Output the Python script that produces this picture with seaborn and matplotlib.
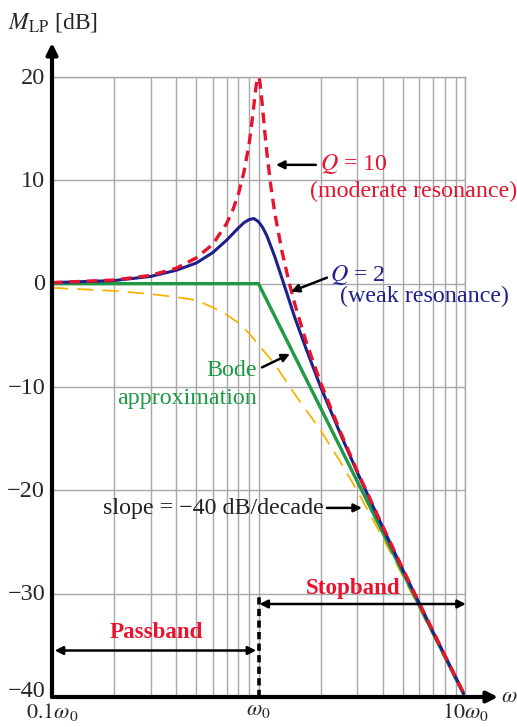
import numpy as np
import pandas as pd
import matplotlib
matplotlib.use("Agg")
import matplotlib.pyplot as plt
import matplotlib.transforms as mtransforms
import seaborn as sns

# frequency (w / w0) and magnitude readings [dB]
w_q10 = [0.1, 0.2, 0.3, 0.4, 0.5, 0.6, 0.7, 0.75, 0.8, 0.85, 0.9, 0.93, 0.95, 0.97, 0.98, 0.99, 1.0,
         1.01, 1.02, 1.03, 1.05, 1.07, 1.1, 1.15, 1.2, 1.3, 1.4, 1.5, 1.7, 2.0, 2.5, 3.0, 4.0, 5.0,
         6.0, 7.0, 8.0, 10.0]
m_q10 = [0.1, 0.35, 0.8, 1.5, 2.5, 3.8, 5.8, 7.1, 8.7, 10.8, 13.5, 15.7, 17.3, 18.9, 19.5, 19.9, 20.0,
         19.8, 19.2, 18.4, 16.7, 14.9, 12.5, 9.3, 6.8, 3.1, 0.3, -2.0, -5.6, -9.6, -14.4, -18.1, -23.5,
         -27.6, -30.9, -33.6, -36.0, -39.9]

w_q2 = [0.1, 0.2, 0.3, 0.4, 0.5, 0.6, 0.7, 0.8, 0.85, 0.9, 0.95, 1.0, 1.05, 1.1, 1.2, 1.3, 1.5, 1.7,
        2.0, 2.5, 3.0, 4.0, 5.0, 6.0, 7.0, 8.0, 10.0]
m_q2 = [0.1, 0.3, 0.7, 1.3, 2.0, 3.0, 4.2, 5.4, 5.9, 6.2, 6.3, 6.0, 5.4, 4.6, 2.6, 0.5, -3.3, -6.3,
        -10.0, -14.6, -18.2, -23.6, -27.7, -30.9, -33.7, -36.0, -39.9]

w_bode = [0.1, 1.0, 10.0]
m_bode = [0.0, 0.0, -40.0]

w_q05 = [0.1, 0.2, 0.3, 0.4, 0.5, 0.6, 0.7, 0.8, 0.9, 1.0, 1.2, 1.5, 2.0, 2.5, 3.0, 4.0, 5.0, 6.0,
         7.0, 8.0, 10.0]
m_q05 = [-0.4, -0.7, -1.0, -1.3, -1.6, -2.3, -3.0, -3.8, -4.8, -5.9, -7.8, -10.7, -14.2, -17.3, -20.0,
         -24.6, -28.3, -31.4, -34.0, -36.3, -40.1]

yticks = [20, 10, 0, -10, -20, -30, -40]
xticks = [0.1, 1.0, 10.0]
xtick_labels = [r'$0.1\omega_0$', r'$\omega_0$', r'$10\omega_0$']

RED = '#e8132e'
NAVY = '#20208a'
GREEN = '#1e9a44'
YELLOW = '#f6b400'
TXT = 17.3

sns.set_theme(style="white")
plt.rcParams['font.family'] = ['Liberation Serif', 'DejaVu Serif']
plt.rcParams['mathtext.fontset'] = 'stix'

fig = plt.figure(figsize=(5.17, 7.27), dpi=100)
ax = fig.add_axes([52 / 517, 30 / 727, 413 / 517, 620 / 727])

# curves
sns.lineplot(x=w_q05, y=m_q05, ax=ax, color=YELLOW, lw=1.3, sort=False)
ax.lines[-1].set_dashes((9, 5))
sns.lineplot(x=w_bode, y=m_bode, ax=ax, color=GREEN, lw=2.4, sort=False)
sns.lineplot(x=w_q2, y=m_q2, ax=ax, color=NAVY, lw=2.2, sort=False)
sns.lineplot(x=w_q10, y=m_q10, ax=ax, color=RED, lw=2.4, sort=False)
ax.lines[-1].set_dashes((3.2, 2))

ax.set_xscale('log')
ax.set_xlim(0.1, 10)
ax.set_ylim(-40, 20)
ax.set_yticks(yticks)
ax.set_xticks(xticks)
ax.set_xticklabels(xtick_labels)
ax.tick_params(axis='both', which='both', length=0, colors='#262626')
ax.tick_params(axis='y', pad=5, labelsize=17.5)
ax.tick_params(axis='x', pad=3, labelsize=16)
# y labels sit a hair above their ticks; -40 is lifted clear of the x axis
for lbl, val in zip(ax.get_yticklabels(), yticks):
    dy = 6 / 72 if val == -40 else 1 / 72
    lbl.set_transform(lbl.get_transform() + mtransforms.ScaledTranslation(0, dy, fig.dpi_scale_trans))
ax.grid(which='both', axis='x', color='#a8a8a8', lw=1)
ax.grid(which='major', axis='y', color='#a8a8a8', lw=1)
ax.set_axisbelow(True)
for side in ['top', 'right']:
    ax.spines[side].set_color('#a8a8a8')
    ax.spines[side].set_linewidth(1)
for side in ['left', 'bottom']:
    ax.spines[side].set_visible(False)

# axis arrows
ax.annotate('', xy=(0, 1.055), xytext=(0, 0), xycoords='axes fraction',
            arrowprops=dict(arrowstyle='-|>', lw=3, color='black', mutation_scale=16,
                            shrinkA=0, shrinkB=0), annotation_clip=False)
ax.annotate('', xy=(1.08, 0), xytext=(0, 0), xycoords='axes fraction',
            arrowprops=dict(arrowstyle='-|>', lw=3, color='black', mutation_scale=16,
                            shrinkA=0, shrinkB=0), annotation_clip=False)
ax.text(1.086, 0.0, r'$\omega$', transform=ax.transAxes, fontsize=16, ha='left', va='center')
fig.text(8 / 517, 1 - 22 / 727, r'$M_{\mathrm{LP}}$ [dB]', fontsize=17, ha='left', va='center')

arrow_kw = dict(arrowstyle='-|>', lw=1.8, color='black', mutation_scale=12, shrinkA=0, shrinkB=0)
dbl_kw = dict(arrowstyle='<|-|>', lw=1.8, color='black', mutation_scale=12, shrinkA=0, shrinkB=0)

# Q = 10 label
ax.text(1.99, 11.6, r'$Q$ = 10', color=RED, fontsize=TXT, ha='left', va='center')
ax.text(1.77, 8.9, '(moderate resonance)', color=RED, fontsize=TXT, ha='left', va='center')
ax.annotate('', xy=(1.215, 11.5), xytext=(1.897, 11.5), arrowprops=arrow_kw)

# Q = 2 label
ax.text(2.22, 0.8, r'$Q$ = 2', color=NAVY, fontsize=TXT, ha='left', va='center')
ax.text(2.48, -1.25, '(weak resonance)', color=NAVY, fontsize=TXT, ha='left', va='center')
ax.annotate('', xy=(1.436, -0.77), xytext=(2.146, 0.58), arrowprops=arrow_kw)

# Bode label
ax.text(0.985, -8.4, 'Bode', color=GREEN, fontsize=TXT, ha='right', va='center')
ax.text(0.985, -11.1, 'approximation', color=GREEN, fontsize=TXT, ha='right', va='center')
ax.annotate('', xy=(1.42, -6.8), xytext=(1.04, -8.1), arrowprops=arrow_kw)

# slope label
ax.text(0.177, -21.8, 'slope = \u221240 dB/decade', color='#222222', fontsize=TXT, ha='left', va='center')
ax.annotate('', xy=(3.17, -21.7), xytext=(2.146, -21.7), arrowprops=arrow_kw)

# pass / stop bands
ax.plot([1.0, 1.0], [-40, -30.1], color='black', lw=2.6, dashes=(2, 1.2))
ax.text(2.87, -29.5, 'Stopband', color=RED, fontsize=16.6, fontweight='bold', ha='center', va='center')
ax.annotate('', xy=(10.1, -31.0), xytext=(1.01, -31.0), arrowprops=dbl_kw, annotation_clip=False)
ax.text(0.319, -33.8, 'Passband', color=RED, fontsize=16.6, fontweight='bold', ha='center', va='center')
ax.annotate('', xy=(0.975, -35.5), xytext=(0.103, -35.5), arrowprops=dbl_kw)

fig.savefig('out.png', dpi=100)
